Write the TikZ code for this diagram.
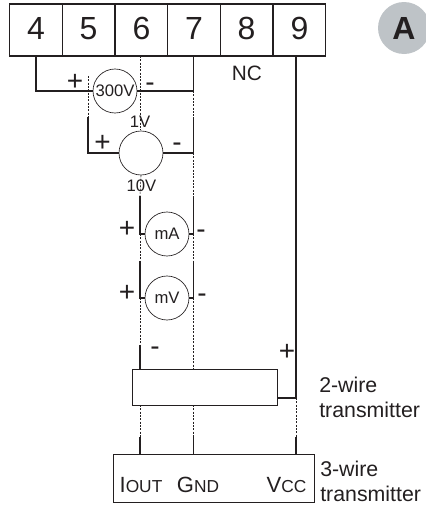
\documentclass[tikz,border=0pt]{standalone}
\usepackage{fontspec}
\setmainfont{Liberation Sans}
\definecolor{ink}{HTML}{231F20}
\definecolor{badge}{HTML}{BEC3C7}
\newcommand{\fs}[1]{\fontsize{#1}{#1}\selectfont}
\tikzset{
  terminal/.style={draw=ink,line width=0.8pt,minimum height=39pt,inner sep=0,text=ink,font=\fs{24},text height=17pt,text depth=3pt},
  meter/.style={draw=ink,circle,line width=0.5pt,minimum size=33pt,inner sep=0,text=ink,font=\fs{12.5}},
  wire/.style={draw=ink,line width=0.8pt},
  jumper/.style={draw=ink,line width=0.45pt,dash pattern=on 1.5pt off 1pt},
  lbl/.style={inner sep=0,text=ink,font=\fs{12.5}},
  sign/.style={inner sep=0,text=ink,font=\fs{21}},
  caption/.style={inner sep=0,text=ink,font=\fontsize{16}{18.7}\selectfont,align=left,anchor=west},
  pinlabel/.style={inner sep=0,text=ink,font=\fs{16.5}},
  box/.style={draw=ink,line width=0.6pt,inner sep=0}
}
\begin{document}
\begin{tikzpicture}[x=0.75pt,y=-0.75pt]
\useasboundingbox (0,0) rectangle (425,507);
% terminal strip
\node[terminal,minimum width=39.5pt] (t4) at (36,30) {4};
\node[terminal,minimum width=39.5pt] (t5) at (88.5,30) {5};
\node[terminal,minimum width=39.5pt] (t6) at (141.5,30) {6};
\node[terminal,minimum width=39.5pt] (t7) at (194,30) {7};
\node[terminal,minimum width=39.5pt] (t8) at (246.5,30) {8};
\node[terminal,minimum width=39.5pt] (t9) at (299.5,30) {9};
\node[lbl,font=\fs{15.6}] (nc) at (247,73) {NC};
% badge
\node[circle,fill=badge,minimum size=39pt,inner sep=0,text=ink,font=\bfseries\fs{24}] (badgeA) at (404,28) {A};
% meters
\node[meter] (m300) at (115,91) {300V};
\node[meter] (mV1) at (141,153) {};
\node[meter] (mA) at (167,234) {mA};
\node[meter] (mV) at (167,298) {mV};
% transmitters
\node[box,minimum width=108.75pt,minimum height=27pt] (tw) at (204.5,387) {};
\node[box,minimum width=150.75pt,minimum height=36pt] (th) at (213.5,478) {};
% helpers
\coordinate (a4) at (36,56); \coordinate (a7) at (193.5,56); \coordinate (a9) at (296,56); \coordinate (a6) at (140,56);
\coordinate (c4) at (36,91); \coordinate (c7) at (193.5,91);
\coordinate (p1) at (88,76); \coordinate (p2) at (88,117); \coordinate (p3) at (88,153);
\coordinate (q1) at (193.5,117); \coordinate (q2) at (193.5,153); \coordinate (q3) at (193.5,196); \coordinate (q4) at (193.5,234);
\coordinate (q5) at (193.5,261); \coordinate (q6) at (193.5,298);
\coordinate (r1) at (140,196); \coordinate (r2) at (140,234); \coordinate (r3) at (140,261); \coordinate (r4) at (140,298);
\coordinate (r5) at (140,345); \coordinate (r6) at (140,369); \coordinate (r7) at (140,405); \coordinate (r8) at (140,437); \coordinate (r9) at (140,454);
\coordinate (q7) at (193.5,369); \coordinate (q8) at (193.5,405); \coordinate (q9) at (193.5,437); \coordinate (q10) at (193.5,454);
\coordinate (v1) at (296,398); \coordinate (v2) at (296,437); \coordinate (v3) at (296,454);
\coordinate (j1) at (140,130);
% solid wires
\draw[wire] (a4) -- (c4) -- (m300.west);
\draw[wire] (m300.east) -- (c7) -- (a7);
\draw[wire] (p2) -- (p3) -- (mV1.west);
\draw[wire] (mV1.east) -- (q2) -- (q1);
\draw[wire] (r1) -- (r2) -- (mA.west);
\draw[wire] (mA.east) -- (q4) -- (q3);
\draw[wire] (r3) -- (r4) -- (mV.west);
\draw[wire] (mV.east) -- (q6) -- (q5);
\draw[wire] (r5) -- (r6);
\draw[wire] (a9) -- (v1) -- (v1-|tw.east);
\draw[wire] (r8) -- (r9);
\draw[wire] (q9) -- (q10);
\draw[wire] (v2) -- (v3);
% jumpers
\draw[jumper] (a6) -- (j1);
\draw[jumper] (p1) -- (p2);
\draw[jumper] (c7) -- (q1);
\draw[jumper] (q2) -- (q3);
\draw[jumper] (mV1.south) -- (r1);
\draw[jumper] (r2) -- (r3);
\draw[jumper] (q4) -- (q5);
\draw[jumper] (r4) -- (r5);
\draw[jumper] (q6) -- (q7);
\draw[jumper] (r7) -- (r8);
\draw[jumper] (q8) -- (q9);
\draw[jumper] (v1) -- (v2);
% labels
\node[lbl] (l1v) at (140,122) {1V};
\node[lbl] (l10v) at (141.5,186) {10V};
\node[sign] (s1) at (75,82) {+};
\node[sign] (s2) at (150,87) {-};
\node[sign] (s3) at (102.5,143) {+};
\node[sign] (s4) at (177,147) {-};
\node[sign] (s5) at (127,229) {+};
\node[sign] (s6) at (201,234) {-};
\node[sign] (s7) at (127,293) {+};
\node[sign] (s8) at (202,298) {-};
\node[sign] (s9) at (155,351) {-};
\node[sign] (s10) at (287,352) {+};
\node[caption] (c2) at (319,397) {2-wire\\transmitter};
\node[caption] (c3) at (320,481.5) {3-wire\\transmitter};
\node[pinlabel] (iout) at (141,485) {I{\fs{13}OUT}};
\node[pinlabel] (gnd) at (198,485) {G{\fs{13}ND}};
\node[pinlabel] (vcc) at (286.5,485) {V{\fs{13}CC}};
\end{tikzpicture}
\end{document}
